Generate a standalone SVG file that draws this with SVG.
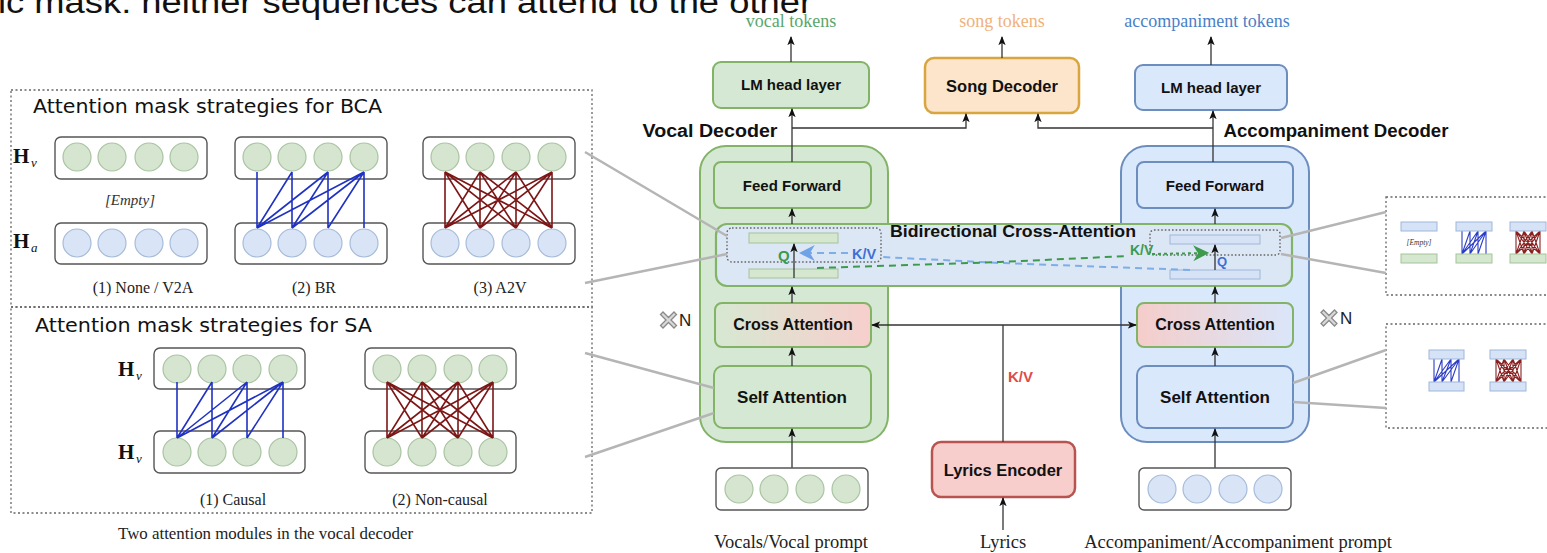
<svg xmlns="http://www.w3.org/2000/svg" width="1547" height="553" viewBox="0 0 1547 553">
  <defs>
    <style>
      .sans{font-family:"Liberation Sans",Arial,sans-serif}
      .serif{font-family:"Liberation Serif","Times New Roman",serif}
      .lbl{font-family:"Liberation Sans",Arial,sans-serif;font-weight:bold;fill:#111;text-anchor:middle}
      .cap{font-family:"Liberation Serif","Times New Roman",serif;font-size:16px;fill:#222;text-anchor:middle}
      .ttl{font-family:"DejaVu Sans","Liberation Sans",sans-serif;font-size:20px;fill:#111}
      .dot{fill:none;stroke:#666;stroke-width:1.3;stroke-dasharray:2 2.5}
      .row{fill:#fff;stroke:#555;stroke-width:1.4}
      .cg{fill:#d5e5cf;stroke:#a9c4a2;stroke-width:1.2}
      .cb{fill:#d9e5f7;stroke:#a6bcda;stroke-width:1.2}
      .bg{fill:#d5e8d4;stroke:#82b366;stroke-width:2}
      .bb{fill:#dae8fc;stroke:#6c8ebf;stroke-width:2}
      .wire{fill:none;stroke:#333;stroke-width:1.3}
      .lead{fill:none;stroke:#b5b5b5;stroke-width:2.5}
      .blu{fill:none;stroke:#1f32c4;stroke-width:1.6}
      .red{fill:none;stroke:#7d1616;stroke-width:1.6}
      .mblu{fill:none;stroke:#2a3cc8;stroke-width:1.1}
      .mred{fill:none;stroke:#8a2020;stroke-width:1.1}
      .mbar-b{fill:#d6e3f7;stroke:#9fb6d9;stroke-width:1}
      .mbar-g{fill:#d5e8cf;stroke:#a3c49a;stroke-width:1}
      .hl{font-family:"Liberation Serif","Times New Roman",serif;font-weight:bold;font-size:21px;fill:#111}
      .hs{font-family:"Liberation Serif","Times New Roman",serif;font-style:italic;font-size:13px;fill:#111}
    </style>
    <marker id="ah" viewBox="0 0 10 10" refX="9" refY="5" markerWidth="7" markerHeight="7" orient="auto">
      <path d="M0,1 L10,5 L0,9 L2.5,5 z" fill="#111"/>
    </marker>
    <marker id="ahb" viewBox="0 0 10 10" refX="8" refY="5" markerWidth="8" markerHeight="8" orient="auto">
      <path d="M0,0 L10,5 L0,10 L3,5 z" fill="#6fa2e6"/>
    </marker>
    <marker id="ahg" viewBox="0 0 10 10" refX="8" refY="5" markerWidth="8" markerHeight="8" orient="auto">
      <path d="M0,0 L10,5 L0,10 L3,5 z" fill="#3c9a4c"/>
    </marker>
    <linearGradient id="gp" x1="0" y1="0" x2="1" y2="0">
      <stop offset="0" stop-color="#d7e8d2"/>
      <stop offset="1" stop-color="#f7cfcc"/>
    </linearGradient>
    <linearGradient id="pb" x1="0" y1="0" x2="1" y2="0">
      <stop offset="0" stop-color="#f5cdca"/>
      <stop offset="1" stop-color="#dae6fa"/>
    </linearGradient>
    <path id="xn" d="M-8,-5.5 L-5.5,-8 L0,-2.5 L5.5,-8 L8,-5.5 L2.5,0 L8,5.5 L5.5,8 L0,2.5 L-5.5,8 L-8,5.5 L-2.5,0 z" fill="#d9d9d9" stroke="#8a8a8a" stroke-width="1.3"/>
  </defs>

  <rect width="1547" height="553" fill="#fff"/>

  <!-- running text line cut at the top edge -->
  <text class="sans" x="-2" y="13" font-size="31" fill="#111" textLength="814" lengthAdjust="spacingAndGlyphs">ic mask: neither sequences can attend to the other</text>

  <!-- ===== left panel: BCA masks ===== -->
  <g id="panel-bca">
    <rect class="dot" x="11" y="90" width="581" height="217"/>
    <text class="ttl" x="33" y="113" textLength="349" lengthAdjust="spacingAndGlyphs">Attention mask strategies for BCA</text>

    <text class="hl" x="13" y="163">H</text><text class="hs" x="31" y="167">v</text>
    <text class="hl" x="13" y="248">H</text><text class="hs" x="31" y="252">a</text>

    <!-- (1) None / V2A -->
    <rect class="row" x="55" y="137" width="152" height="42" rx="6"/>
    <circle class="cg" cx="77" cy="157" r="14"/><circle class="cg" cx="112" cy="157" r="14"/><circle class="cg" cx="149" cy="157" r="14"/><circle class="cg" cx="184" cy="157" r="14"/>
    <text class="serif" x="130" y="205" font-size="15" font-style="italic" text-anchor="middle" fill="#333">[Empty]</text>
    <rect class="row" x="55" y="223" width="152" height="41" rx="6"/>
    <circle class="cb" cx="77" cy="243" r="14"/><circle class="cb" cx="112" cy="243" r="14"/><circle class="cb" cx="149" cy="243" r="14"/><circle class="cb" cx="184" cy="243" r="14"/>
    <text class="cap" x="143" y="293">(1) None / V2A</text>

    <!-- (2) BR -->
    <rect class="row" x="235" y="137" width="152" height="42" rx="6"/>
    <circle class="cg" cx="257" cy="157" r="14"/><circle class="cg" cx="292" cy="157" r="14"/><circle class="cg" cx="328" cy="157" r="14"/><circle class="cg" cx="364" cy="157" r="14"/>
    <rect class="row" x="235" y="223" width="152" height="41" rx="6"/>
    <circle class="cb" cx="257" cy="243" r="14"/><circle class="cb" cx="292" cy="243" r="14"/><circle class="cb" cx="328" cy="243" r="14"/><circle class="cb" cx="364" cy="243" r="14"/>
    <path class="blu" d="M257 172L257 228M292 172L257 228M292 172L292 228M328 172L257 228M328 172L292 228M328 172L328 228M364 172L257 228M364 172L292 228M364 172L328 228M364 172L364 228"/>
    <text class="cap" x="314" y="293">(2) BR</text>

    <!-- (3) A2V -->
    <rect class="row" x="423" y="137" width="152" height="42" rx="6"/>
    <circle class="cg" cx="445" cy="157" r="14"/><circle class="cg" cx="480" cy="157" r="14"/><circle class="cg" cx="516" cy="157" r="14"/><circle class="cg" cx="552" cy="157" r="14"/>
    <rect class="row" x="423" y="223" width="152" height="41" rx="6"/>
    <circle class="cb" cx="445" cy="243" r="14"/><circle class="cb" cx="480" cy="243" r="14"/><circle class="cb" cx="516" cy="243" r="14"/><circle class="cb" cx="552" cy="243" r="14"/>
    <path class="red" d="M445 172L445 228M445 172L480 228M445 172L516 228M445 172L552 228M480 172L445 228M480 172L480 228M480 172L516 228M480 172L552 228M516 172L445 228M516 172L480 228M516 172L516 228M516 172L552 228M552 172L445 228M552 172L480 228M552 172L516 228M552 172L552 228"/>
    <text class="cap" x="500" y="293">(3) A2V</text>
  </g>

  <!-- ===== left panel: SA masks ===== -->
  <g id="panel-sa">
    <rect class="dot" x="11" y="307" width="581" height="206"/>
    <text class="ttl" x="35" y="332" textLength="337" lengthAdjust="spacingAndGlyphs">Attention mask strategies for SA</text>

    <text class="hl" x="118" y="376">H</text><text class="hs" x="136" y="380">v</text>
    <text class="hl" x="118" y="459">H</text><text class="hs" x="136" y="463">v</text>

    <!-- (1) Causal -->
    <rect class="row" x="154" y="348" width="151" height="41" rx="6"/>
    <circle class="cg" cx="177" cy="369" r="14"/><circle class="cg" cx="212" cy="369" r="14"/><circle class="cg" cx="247" cy="369" r="14"/><circle class="cg" cx="283" cy="369" r="14"/>
    <rect class="row" x="154" y="431" width="151" height="42" rx="6"/>
    <circle class="cg" cx="177" cy="452" r="14"/><circle class="cg" cx="212" cy="452" r="14"/><circle class="cg" cx="247" cy="452" r="14"/><circle class="cg" cx="283" cy="452" r="14"/>
    <path class="blu" d="M177 382L177 438M212 382L177 438M212 382L212 438M247 382L177 438M247 382L212 438M247 382L247 438M283 382L177 438M283 382L212 438M283 382L247 438M283 382L283 438"/>
    <text class="cap" x="233" y="505">(1) Causal</text>

    <!-- (2) Non-causal -->
    <rect class="row" x="365" y="348" width="151" height="41" rx="6"/>
    <circle class="cg" cx="387" cy="369" r="14"/><circle class="cg" cx="422" cy="369" r="14"/><circle class="cg" cx="458" cy="369" r="14"/><circle class="cg" cx="493" cy="369" r="14"/>
    <rect class="row" x="365" y="431" width="151" height="42" rx="6"/>
    <circle class="cg" cx="387" cy="452" r="14"/><circle class="cg" cx="422" cy="452" r="14"/><circle class="cg" cx="458" cy="452" r="14"/><circle class="cg" cx="493" cy="452" r="14"/>
    <path class="red" d="M387 382L387 438M387 382L422 438M387 382L458 438M387 382L493 438M422 382L387 438M422 382L422 438M422 382L458 438M422 382L493 438M458 382L387 438M458 382L422 438M458 382L458 438M458 382L493 438M493 382L387 438M493 382L422 438M493 382L458 438M493 382L493 438"/>
    <text class="cap" x="440" y="505">(2) Non-causal</text>
  </g>
  <text class="serif" x="118" y="539" font-size="17" fill="#222" textLength="295" lengthAdjust="spacingAndGlyphs">Two attention modules in the vocal decoder</text>

  <!-- ===== right mini panels ===== -->
  <g id="mini-bca">
    <rect class="dot" x="1386" y="197" width="175" height="98"/>
    <rect class="mbar-b" x="1401" y="222" width="36" height="9"/>
    <text class="serif" x="1419" y="245" font-size="7.5" font-style="italic" text-anchor="middle" fill="#333">[Empty]</text>
    <rect class="mbar-g" x="1401" y="254" width="36" height="9"/>
    <path class="mblu" d="M1462 231L1462 254M1470 231L1462 254M1470 231L1470 254M1478 231L1462 254M1478 231L1470 254M1478 231L1478 254M1486 231L1462 254M1486 231L1470 254M1486 231L1478 254M1486 231L1486 254"/>
    <rect class="mbar-b" x="1456" y="222" width="36" height="9"/>
    <rect class="mbar-g" x="1456" y="254" width="36" height="9"/>
    <path class="mred" d="M1516 231L1516 254M1516 231L1524 254M1516 231L1532 254M1516 231L1540 254M1524 231L1516 254M1524 231L1524 254M1524 231L1532 254M1524 231L1540 254M1532 231L1516 254M1532 231L1524 254M1532 231L1532 254M1532 231L1540 254M1540 231L1516 254M1540 231L1524 254M1540 231L1532 254M1540 231L1540 254"/>
    <rect class="mbar-b" x="1510" y="222" width="36" height="9"/>
    <rect class="mbar-g" x="1510" y="254" width="36" height="9"/>
  </g>
  <g id="mini-sa">
    <rect class="dot" x="1386" y="324" width="175" height="104"/>
    <path class="mblu" d="M1434 359L1434 382M1442 359L1434 382M1442 359L1442 382M1451 359L1434 382M1451 359L1442 382M1451 359L1451 382M1459 359L1434 382M1459 359L1442 382M1459 359L1451 382M1459 359L1459 382"/>
    <rect class="mbar-b" x="1429" y="350" width="35" height="9"/>
    <rect class="mbar-b" x="1429" y="382" width="35" height="9"/>
    <path class="mred" d="M1496 359L1496 382M1496 359L1504 382M1496 359L1513 382M1496 359L1521 382M1504 359L1496 382M1504 359L1504 382M1504 359L1513 382M1504 359L1521 382M1513 359L1496 382M1513 359L1504 382M1513 359L1513 382M1513 359L1521 382M1521 359L1496 382M1521 359L1504 382M1521 359L1513 382M1521 359L1521 382"/>
    <rect class="mbar-b" x="1490" y="350" width="36" height="9"/>
    <rect class="mbar-b" x="1490" y="382" width="36" height="9"/>
  </g>

  <!-- ===== decoders ===== -->
  <g id="vocal-decoder">
    <rect class="bg" x="700" y="146" width="188" height="296" rx="26"/>
    <text class="lbl" x="710" y="137" font-size="18" textLength="135" lengthAdjust="spacingAndGlyphs">Vocal Decoder</text>
  </g>
  <g id="accomp-decoder">
    <rect class="bb" x="1121" y="146" width="188" height="296" rx="26"/>
    <text class="lbl" x="1336" y="137" font-size="18" textLength="225" lengthAdjust="spacingAndGlyphs">Accompaniment Decoder</text>
  </g>

  <g id="vocal-ff"><rect class="bg" x="714" y="162" width="157" height="46" rx="7"/><text class="lbl" x="792" y="191" font-size="15">Feed Forward</text></g>
  <g id="accomp-ff"><rect class="bb" x="1137" y="162" width="156" height="46" rx="7"/><text class="lbl" x="1215" y="191" font-size="15">Feed Forward</text></g>

  <g id="vocal-cross"><rect x="715" y="303" width="156" height="44" rx="7" fill="url(#gp)" stroke="#82b366" stroke-width="2"/><text class="lbl" x="793" y="330" font-size="16">Cross Attention</text></g>
  <g id="accomp-cross"><rect x="1137" y="303" width="156" height="44" rx="7" fill="url(#pb)" stroke="#82b366" stroke-width="2"/><text class="lbl" x="1215" y="330" font-size="16">Cross Attention</text></g>

  <g id="vocal-self"><rect class="bg" x="714" y="366" width="157" height="62" rx="9"/><text class="lbl" x="792" y="403" font-size="17">Self Attention</text></g>
  <g id="accomp-self"><rect class="bb" x="1137" y="366" width="156" height="62" rx="9"/><text class="lbl" x="1215" y="403" font-size="17">Self Attention</text></g>

  <g id="lm-vocal"><rect class="bg" x="713" y="62" width="156" height="46" rx="8"/><text class="lbl" x="791" y="90" font-size="15">LM head layer</text></g>
  <g id="song-decoder"><rect x="925" y="58" width="154" height="55" rx="9" fill="#fde5cb" stroke="#d8a53e" stroke-width="2.5"/><text class="lbl" x="1002" y="92" font-size="16.5">Song Decoder</text></g>
  <g id="lm-accomp"><rect class="bb" x="1135" y="65" width="152" height="45" rx="8"/><text class="lbl" x="1211" y="93" font-size="15">LM head layer</text></g>

  <g id="lyrics-encoder"><rect x="932" y="442" width="143" height="55" rx="9" fill="#f8cecc" stroke="#b85450" stroke-width="2.5"/><text class="lbl" x="1003" y="476" font-size="16.5">Lyrics Encoder</text></g>

  <!-- ===== bidirectional cross-attention block ===== -->
  <g id="bca">
    <rect x="716" y="224" width="576" height="62" rx="11" fill="#dce7f5" stroke="#82b366" stroke-width="2.2"/>
    <text class="lbl" x="1013" y="237" font-size="16.5" textLength="246" lengthAdjust="spacingAndGlyphs">Bidirectional Cross-Attention</text>
    <rect x="727" y="228" width="154" height="34" rx="5" fill="none" stroke="#666" stroke-width="1.4" stroke-dasharray="1.6 2"/>
    <rect class="mbar-g" x="749" y="233" width="89" height="10"/>
    <rect class="mbar-g" x="749" y="269" width="89" height="9"/>
    <rect x="1150" y="230" width="130" height="25" rx="4" fill="none" stroke="#666" stroke-width="1.4" stroke-dasharray="1.6 2"/>
    <rect class="mbar-b" x="1170" y="235" width="90" height="9"/>
    <rect class="mbar-b" x="1170" y="270" width="90" height="9"/>
  </g>

  <!-- ===== connectors ===== -->
  <g id="connectors">
    <!-- leader lines from the mask panels -->
    <path class="lead" d="M585,152 L727,236"/>
    <path class="lead" d="M585,283 L727,254"/>
    <path class="lead" d="M585,353 L714,388"/>
    <path class="lead" d="M585,457 L714,413"/>
    <path class="lead" d="M1281,238 L1386,212"/>
    <path class="lead" d="M1281,254 L1386,273"/>
    <path class="lead" d="M1293,383 L1386,350"/>
    <path class="lead" d="M1293,402 L1386,408"/>

    <!-- outputs -->
    <path class="wire" d="M791,62 V37" marker-end="url(#ah)"/>
    <path class="wire" d="M1002,58 V37" marker-end="url(#ah)"/>
    <path class="wire" d="M1211,65 V37" marker-end="url(#ah)"/>

    <!-- vocal stack -->
    <path class="wire" d="M792,468 V429" marker-end="url(#ah)"/>
    <path class="wire" d="M792,366 V348" marker-end="url(#ah)"/>
    <path class="wire" d="M792,303 V287" marker-end="url(#ah)"/>
    <path class="wire" d="M792,224 V209" marker-end="url(#ah)"/>
    <path class="wire" d="M792,162 V109" marker-end="url(#ah)"/>
    <path class="wire" d="M792,128 H966 V114" marker-end="url(#ah)"/>
    <path class="wire" d="M794,278 V244" marker-end="url(#ah)"/>

    <!-- accompaniment stack -->
    <path class="wire" d="M1215,468 V429" marker-end="url(#ah)"/>
    <path class="wire" d="M1215,366 V348" marker-end="url(#ah)"/>
    <path class="wire" d="M1215,303 V287" marker-end="url(#ah)"/>
    <path class="wire" d="M1215,224 V209" marker-end="url(#ah)"/>
    <path class="wire" d="M1213,162 V111" marker-end="url(#ah)"/>
    <path class="wire" d="M1213,128 H1038 V114" marker-end="url(#ah)"/>
    <path class="wire" d="M1215,270 V245" marker-end="url(#ah)"/>

    <!-- lyrics path -->
    <path class="wire" d="M1003,530 V498" marker-end="url(#ah)"/>
    <path class="wire" d="M1003,442 V325"/>
    <path class="wire" d="M1003,325 H872" marker-end="url(#ah)"/>
    <path class="wire" d="M1003,325 H1136" marker-end="url(#ah)"/>
    <text class="sans" x="1008" y="382" font-size="15" font-weight="bold" fill="#e04a4a">K/V</text>

    <!-- cross-stream K/V flows -->
    <path d="M1190,270 L1000,263 L882,257" fill="none" stroke="#7eaee8" stroke-width="2" stroke-dasharray="7 5"/>
    <path d="M848,253 L802,253" fill="none" stroke="#7eaee8" stroke-width="2" stroke-dasharray="7 5" marker-end="url(#ahb)"/>
    <text class="sans" x="852" y="259" font-size="14.5" font-weight="bold" fill="#3f6fd3">K/V</text>
    <text class="sans" x="778" y="261" font-size="15" font-weight="bold" fill="#3c9a4c">Q</text>

    <path d="M817,268 L1000,262 L1128,256" fill="none" stroke="#3c9a4c" stroke-width="2" stroke-dasharray="7 5"/>
    <path d="M1152,254 L1206,253" fill="none" stroke="#3c9a4c" stroke-width="2" stroke-dasharray="3 3" marker-end="url(#ahg)"/>
    <text class="sans" x="1130" y="255" font-size="14" font-weight="bold" fill="#3c9a4c">K/V</text>
    <text class="sans" x="1217" y="266" font-size="13" font-weight="bold" fill="#3f6fd3">Q</text>
  </g>

  <!-- layer repetition marks -->
  <g id="repeat-vocal"><use href="#xn" transform="translate(668.5,320)"/><text class="sans" x="679" y="326" font-size="17" fill="#222">N</text></g>
  <g id="repeat-accomp"><use href="#xn" transform="translate(1329,318)"/><text class="sans" x="1340" y="324" font-size="17" fill="#222">N</text></g>

  <!-- token labels -->
  <text class="serif" x="791" y="27" font-size="18" fill="#5aa66a" text-anchor="middle">vocal tokens</text>
  <text class="serif" x="1002" y="27" font-size="18" fill="#f0b27a" text-anchor="middle">song tokens</text>
  <text class="serif" x="1207" y="27" font-size="18" fill="#4a7fc8" text-anchor="middle">accompaniment tokens</text>

  <!-- inputs -->
  <g id="vocal-input">
    <rect class="row" x="716" y="468" width="152" height="42" rx="5"/>
    <circle class="cg" cx="739" cy="489" r="14"/><circle class="cg" cx="774" cy="489" r="14"/><circle class="cg" cx="810" cy="489" r="14"/><circle class="cg" cx="846" cy="489" r="14"/>
  </g>
  <g id="accomp-input">
    <rect class="row" x="1139" y="468" width="152" height="42" rx="5"/>
    <circle class="cb" cx="1162" cy="489" r="14"/><circle class="cb" cx="1197" cy="489" r="14"/><circle class="cb" cx="1233" cy="489" r="14"/><circle class="cb" cx="1268" cy="489" r="14"/>
  </g>
  <text class="serif" x="791" y="548" font-size="18.5" fill="#222" text-anchor="middle">Vocals/Vocal prompt</text>
  <text class="serif" x="1003" y="548" font-size="18.5" fill="#222" text-anchor="middle">Lyrics</text>
  <text class="serif" x="1238" y="548" font-size="18.5" fill="#222" text-anchor="middle">Accompaniment/Accompaniment prompt</text>
</svg>
